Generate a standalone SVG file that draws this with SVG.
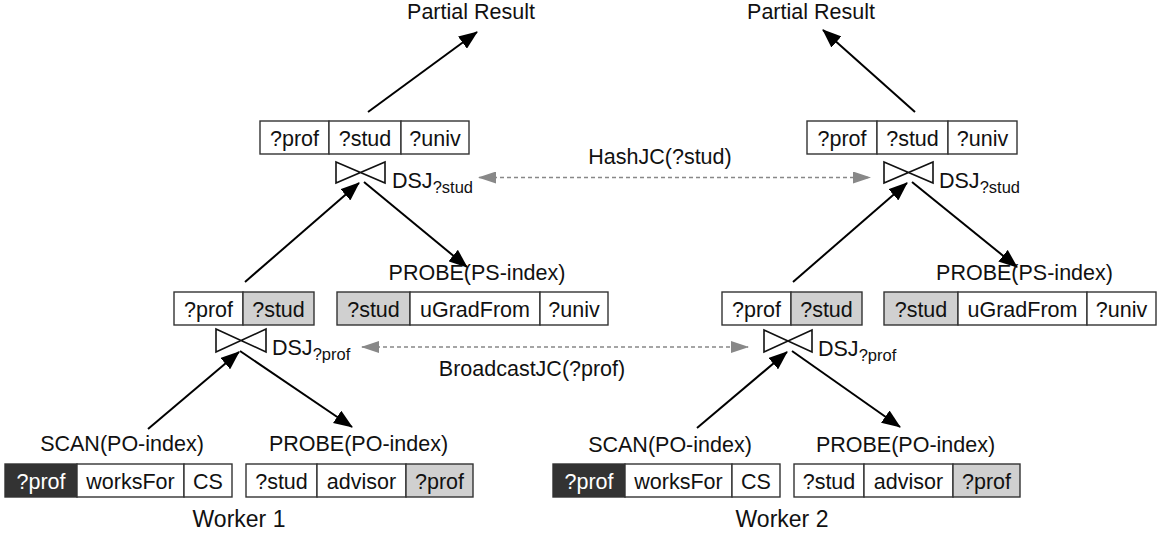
<svg xmlns="http://www.w3.org/2000/svg" width="1167" height="538" viewBox="0 0 1167 538">
<defs>
<style>
text{font-family:"Liberation Sans",Arial,sans-serif;font-size:21.5px;fill:#111;}
.c{text-anchor:middle;}
.cell{fill:#fff;stroke:#333;stroke-width:1.4;}
.g{fill:#d0d0d0;}
.d{fill:#333;}
.bt{fill:#fff;stroke:#111;stroke-width:1.6;stroke-linejoin:miter;}
.arr{stroke:#000;stroke-width:2;fill:none;marker-end:url(#ah);}
.dash{stroke:#888;stroke-width:1.6;stroke-dasharray:4,3;fill:none;marker-start:url(#gs);marker-end:url(#ge);}
.sub{font-size:16.5px;}
.wk{font-size:23px;}
</style>
<marker id="ah" markerUnits="userSpaceOnUse" markerWidth="19" markerHeight="15" viewBox="0 0 19 15" refX="18" refY="7.5" orient="auto">
<path d="M0,0 L19,7.5 L0,15 Z" fill="#000"/>
</marker>
<marker id="ge" markerUnits="userSpaceOnUse" markerWidth="18" markerHeight="12" viewBox="0 0 18 12" refX="17" refY="6" orient="auto">
<path d="M0,0 L18,6 L0,12 Z" fill="#888"/>
</marker>
<marker id="gs" markerUnits="userSpaceOnUse" markerWidth="18" markerHeight="12" viewBox="0 0 18 12" refX="1" refY="6" orient="auto">
<path d="M18,0 L0,6 L18,12 Z" fill="#888"/>
</marker>
</defs>
<rect width="1167" height="538" fill="#fff"/>

<g id="connectors">
<line class="arr" x1="148" y1="429" x2="239" y2="352"/>
<line class="arr" x1="240" y1="351" x2="352" y2="427"/>
<line class="arr" x1="245" y1="282" x2="359" y2="183"/>
<line class="arr" x1="364" y1="182" x2="467" y2="267"/>
<line class="arr" x1="368" y1="112" x2="477" y2="32"/>
<line class="arr" x1="697" y1="428" x2="787" y2="352"/>
<line class="arr" x1="792" y1="351" x2="900" y2="427"/>
<line class="arr" x1="793" y1="282" x2="907" y2="183"/>
<line class="arr" x1="912" y1="182" x2="1017" y2="267"/>
<line class="arr" x1="915" y1="112" x2="823" y2="30"/>
<line class="dash" x1="479" y1="177.5" x2="870" y2="177.5"/>
<line class="dash" x1="362" y1="347" x2="748" y2="347"/>
</g>

<g id="partial-result-1"><text class="c" x="471" y="19">Partial Result</text></g>
<g id="partial-result-2"><text class="c" x="811" y="19">Partial Result</text></g>

<g id="table-w1-result">
<rect class="cell" x="260" y="121" width="69" height="33"/>
<rect class="cell" x="329" y="121" width="72" height="33"/>
<rect class="cell" x="401" y="121" width="68" height="33"/>
<text class="c" x="294.5" y="146">?prof</text>
<text class="c" x="365" y="146">?stud</text>
<text class="c" x="435" y="146">?univ</text>
</g>
<g id="table-w2-result">
<rect class="cell" x="807" y="121" width="70" height="33"/>
<rect class="cell" x="877" y="121" width="71" height="33"/>
<rect class="cell" x="948" y="121" width="69" height="33"/>
<text class="c" x="842" y="146">?prof</text>
<text class="c" x="912.5" y="146">?stud</text>
<text class="c" x="982.5" y="146">?univ</text>
</g>

<g id="dsj-stud-1">
<path class="bt" d="M336,162 L385,183 L385,162 L336,183 Z"/>
<text x="392" y="188">DSJ<tspan class="sub" dy="5">?stud</tspan></text>
</g>
<g id="dsj-stud-2">
<path class="bt" d="M884,162 L933,183 L933,162 L884,183 Z"/>
<text x="939" y="188">DSJ<tspan class="sub" dy="5">?stud</tspan></text>
</g>

<g id="hashjc"><text class="c" x="660" y="164">HashJC(?stud)</text></g>
<g id="broadcastjc"><text class="c" x="532" y="376">BroadcastJC(?prof)</text></g>

<g id="table-w1-mid">
<rect class="cell" x="174" y="292" width="69" height="33"/>
<rect class="cell g" x="243" y="292" width="71" height="33"/>
<text class="c" x="208.5" y="317">?prof</text>
<text class="c" x="278.5" y="317">?stud</text>
</g>
<g id="table-w2-mid">
<rect class="cell" x="722" y="292" width="69" height="33"/>
<rect class="cell g" x="791" y="292" width="71" height="33"/>
<text class="c" x="756.5" y="317">?prof</text>
<text class="c" x="826.5" y="317">?stud</text>
</g>

<g id="probe-ps-1">
<text class="c" x="477" y="280">PROBE(PS-index)</text>
<rect class="cell g" x="337" y="292" width="73" height="33"/>
<rect class="cell" x="410" y="292" width="130" height="33"/>
<rect class="cell" x="540" y="292" width="68" height="33"/>
<text class="c" x="373.5" y="317">?stud</text>
<text class="c" x="475" y="317">uGradFrom</text>
<text class="c" x="574" y="317">?univ</text>
</g>
<g id="probe-ps-2">
<text class="c" x="1024.5" y="280">PROBE(PS-index)</text>
<rect class="cell g" x="884" y="292" width="74" height="33"/>
<rect class="cell" x="958" y="292" width="129" height="33"/>
<rect class="cell" x="1087" y="292" width="69" height="33"/>
<text class="c" x="921" y="317">?stud</text>
<text class="c" x="1022.5" y="317">uGradFrom</text>
<text class="c" x="1121.5" y="317">?univ</text>
</g>

<g id="dsj-prof-1">
<path class="bt" d="M216,329 L266,352 L266,329 L216,352 Z"/>
<text x="272" y="355">DSJ<tspan class="sub" dy="5">?prof</tspan></text>
</g>
<g id="dsj-prof-2">
<path class="bt" d="M764,330 L812,352 L812,330 L764,352 Z"/>
<text x="818" y="356">DSJ<tspan class="sub" dy="5">?prof</tspan></text>
</g>

<g id="scan-1">
<text class="c" x="122" y="451">SCAN(PO-index)</text>
<rect class="cell d" x="5" y="464" width="72" height="33"/>
<rect class="cell" x="77" y="464" width="107" height="33"/>
<rect class="cell" x="184" y="464" width="48" height="33"/>
<text class="c" x="41" y="489" style="fill:#fff">?prof</text>
<text class="c" x="130.5" y="489">worksFor</text>
<text class="c" x="208" y="489">CS</text>
</g>
<g id="probe-po-1">
<text class="c" x="358.5" y="451">PROBE(PO-index)</text>
<rect class="cell" x="246" y="464" width="71" height="33"/>
<rect class="cell" x="317" y="464" width="89" height="33"/>
<rect class="cell g" x="406" y="464" width="67" height="33"/>
<text class="c" x="281.5" y="489">?stud</text>
<text class="c" x="361.5" y="489">advisor</text>
<text class="c" x="439.5" y="489">?prof</text>
</g>
<g id="scan-2">
<text class="c" x="670" y="452">SCAN(PO-index)</text>
<rect class="cell d" x="553" y="464" width="72" height="33"/>
<rect class="cell" x="625" y="464" width="107" height="33"/>
<rect class="cell" x="732" y="464" width="48" height="33"/>
<text class="c" x="589" y="489" style="fill:#fff">?prof</text>
<text class="c" x="678.5" y="489">worksFor</text>
<text class="c" x="756" y="489">CS</text>
</g>
<g id="probe-po-2">
<text class="c" x="905.5" y="452">PROBE(PO-index)</text>
<rect class="cell" x="794" y="464" width="70" height="33"/>
<rect class="cell" x="864" y="464" width="89" height="33"/>
<rect class="cell g" x="953" y="464" width="67" height="33"/>
<text class="c" x="829" y="489">?stud</text>
<text class="c" x="908.5" y="489">advisor</text>
<text class="c" x="986.5" y="489">?prof</text>
</g>

<g id="worker-1"><text class="c wk" x="239" y="527">Worker 1</text></g>
<g id="worker-2"><text class="c wk" x="782" y="527">Worker 2</text></g>
</svg>
